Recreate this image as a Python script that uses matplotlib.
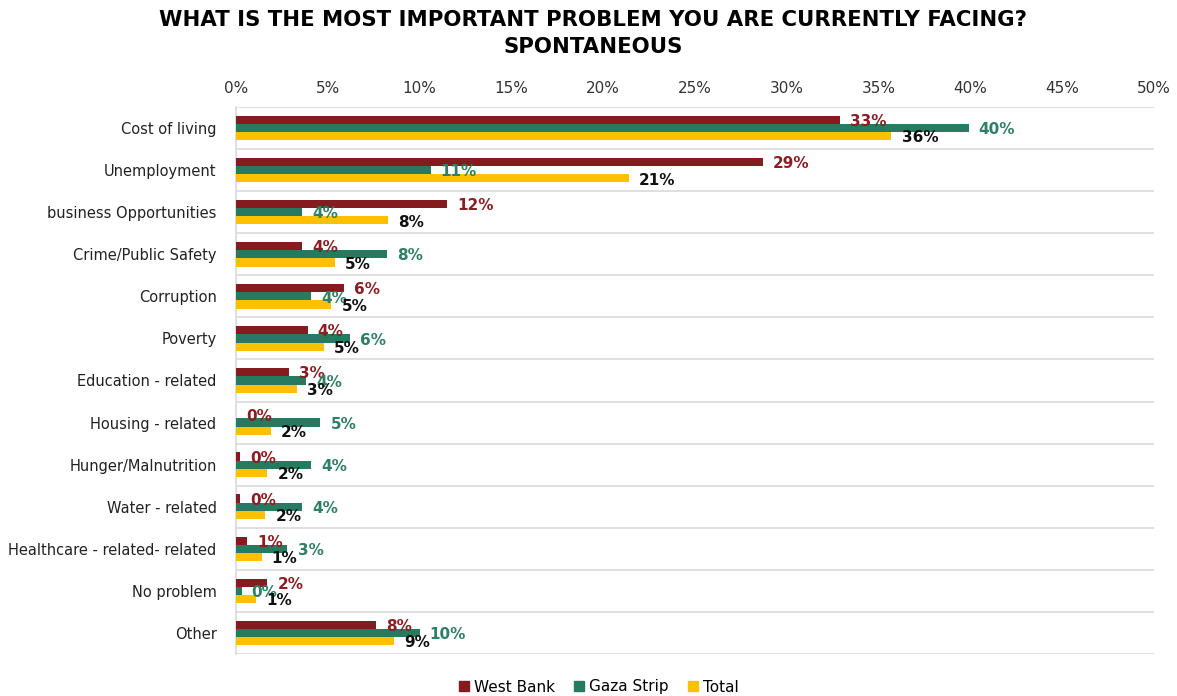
import numpy as np
import matplotlib.pyplot as plt
from matplotlib.lines import Line2D

categories = ['Cost of living', 'Unemployment', 'business Opportunities',
              'Crime/Public Safety', 'Corruption', 'Poverty',
              'Education - related', 'Housing - related', 'Hunger/Malnutrition',
              'Water - related', 'Healthcare - related- related', 'No problem', 'Other']

west_bank = [32.9, 28.7, 11.5, 3.6, 5.9, 3.9, 2.9, 0.0, 0.2, 0.2, 0.6, 1.7, 7.6]
gaza_strip = [39.9, 10.6, 3.6, 8.2, 4.1, 6.2, 3.8, 4.6, 4.1, 3.6, 2.8, 0.3, 10.0]
total = [35.7, 21.4, 8.3, 5.4, 5.2, 4.8, 3.3, 1.9, 1.7, 1.6, 1.4, 1.1, 8.6]

series = [('West Bank', west_bank, '#841B1F', '#8B1E22'),
          ('Gaza Strip', gaza_strip, '#267A5F', '#2F7F65'),
          ('Total', total, '#FFC000', '#111111')]

fig = plt.figure(figsize=(11.77, 6.96), dpi=100)
ax = fig.add_axes([236/1177, 1-654/696, (1154-236)/1177, (654-107)/696])

y = np.arange(len(categories))
h = 0.195
for i, (name, vals, col, lcol) in enumerate(series):
    pos = y + (i - 1) * h
    ax.barh(pos, vals, height=h, color=col, label=name, zorder=3)
    for p, v in zip(pos, vals):
        ax.text(v + 0.55, p + 0.04, f'{round(v):.0f}%', color=lcol, fontsize=11,
                fontweight='bold', va='center', ha='left', zorder=4)

ax.set_xlim(0, 50)
ax.set_ylim(len(categories) - 0.5, -0.5)
ax.set_yticks(y)
ax.set_yticklabels(categories, fontsize=10.5, color='#222222')
ax.set_xticks(np.arange(0, 51, 5))
ax.set_xticklabels([f'{t}%' for t in range(0, 51, 5)], fontsize=11, color='#333333')
ax.xaxis.tick_top()
ax.tick_params(length=0, pad=8)
ax.tick_params(axis='y', pad=14)

for b in np.arange(-0.5, len(categories), 1):
    ax.axhline(b, color='#D9D9D9', lw=1.2, zorder=1)
for s in ['top', 'right', 'bottom']:
    ax.spines[s].set_visible(False)
ax.spines['left'].set_color('#D9D9D9')
ax.spines['left'].set_linewidth(1.2)

fig.text(593/1177, 1-20/696, 'WHAT IS THE MOST IMPORTANT PROBLEM YOU ARE CURRENTLY FACING?',
         fontsize=15.3, fontweight='heavy', ha='center', va='center')
fig.text(593/1177, 1-47/696, 'SPONTANEOUS',
         fontsize=15.3, fontweight='heavy', ha='center', va='center')

handles = [Line2D([], [], marker='s', ls='', color=c, markersize=7) for _, _, c, _ in series]
fig.legend(handles, [s[0] for s in series], loc='center', ncol=3, frameon=False,
           fontsize=11, bbox_to_anchor=(597/1177, 1-687/696), handletextpad=0.05,
           columnspacing=1.0, handlelength=1.2)

fig.savefig('out.png', dpi=100)
